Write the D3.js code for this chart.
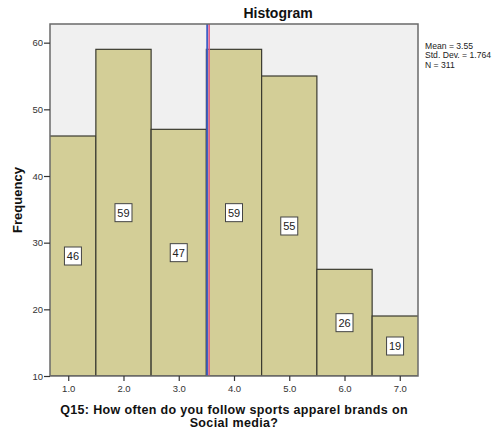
<!DOCTYPE html>
<html><head><meta charset="utf-8">
<script src="https://cdn.jsdelivr.net/npm/d3@7"></script>
<style>body{margin:0;background:#fff;} svg{display:block;font-family:"Liberation Sans",Arial,sans-serif;}</style>
</head><body>
<svg id="c" width="497" height="432"></svg>
<script>
const categories = [1, 2, 3, 4, 5, 6, 7];
const frequencies = [46, 59, 47, 59, 55, 26, 19];
const xTicks = [1, 2, 3, 4, 5, 6, 7];
const yTicks = [10, 20, 30, 40, 50, 60];
const meanValue = 3.55;
const statsLines = ["Mean = 3.55", "Std. Dev. = 1.764", "N = 311"];
const titleText = "Histogram";
const yLabel = "Frequency";
const xLabelLines = ["Q15: How often do you follow sports apparel brands on", "Social media?"];

const svg = d3.select("#c");
const L = 50, R = 418, T = 24, B = 376;
const x = d3.scaleLinear().domain([0.67, 7.33]).range([L, R]);
const y = d3.scaleLinear().domain([10, 62.8]).range([B, T]);

// plot background
svg.append("rect").attr("x", L).attr("y", T).attr("width", R - L).attr("height", B - T).attr("fill", "#f0f0f0");

svg.append("clipPath").attr("id", "pc").append("rect")
  .attr("x", L).attr("y", T).attr("width", R - L).attr("height", B - T);
const g = svg.append("g").attr("clip-path", "url(#pc)");

g.selectAll("rect.bar").data(categories).enter().append("rect")
  .attr("class", "bar")
  .attr("x", d => x(d - 0.5))
  .attr("width", d => x(d + 0.5) - x(d - 0.5))
  .attr("y", (d, i) => y(frequencies[i]))
  .attr("height", (d, i) => B - y(frequencies[i]))
  .attr("fill", "#d3ce97").attr("stroke", "#3a3a30").attr("stroke-width", 1.2);

// mean lines
g.append("line").attr("x1", x(meanValue) - 2).attr("x2", x(meanValue) - 2).attr("y1", T).attr("y2", B)
  .attr("stroke", "#3f5fc6").attr("stroke-width", 1.8);
g.append("line").attr("x1", x(meanValue)).attr("x2", x(meanValue)).attr("y1", T).attr("y2", B)
  .attr("stroke", "#dc5a8c").attr("stroke-width", 1.6);

// value labels
const lab = svg.append("g");
categories.forEach((c, i) => {
  const x0 = Math.max(x(c - 0.5), L), x1 = Math.min(x(c + 0.5), R);
  const cx = (x0 + x1) / 2;
  const cy = y((10 + frequencies[i]) / 2);
  lab.append("rect").attr("x", cx - 8.5).attr("y", cy - 9).attr("width", 17).attr("height", 18)
    .attr("fill", "#fff").attr("stroke", "#444").attr("stroke-width", 1);
  lab.append("text").attr("x", cx).attr("y", cy + 4).attr("text-anchor", "middle")
    .attr("font-size", 11).attr("fill", "#222").text(frequencies[i]);
});

// plot border
svg.append("rect").attr("x", L).attr("y", T).attr("width", R - L).attr("height", B - T)
  .attr("fill", "none").attr("stroke", "#6a6a6a").attr("stroke-width", 1.5);

// axes
const yAx = svg.append("g").attr("transform", `translate(${L},0)`)
  .call(d3.axisLeft(y).tickValues(yTicks).tickFormat(d3.format("d")).tickSize(6).tickPadding(1));
const xAx = svg.append("g").attr("transform", `translate(0,${B})`)
  .call(d3.axisBottom(x).tickValues(xTicks).tickFormat(d3.format(".1f")).tickSize(5).tickPadding(4));
[yAx, xAx].forEach(a => {
  a.select(".domain").remove();
  a.selectAll(".tick line").attr("stroke", "#333").attr("stroke-width", 1.2);
  a.selectAll(".tick text").attr("font-size", 9.5).attr("fill", "#333")
    .attr("font-family", "'Liberation Sans',Arial,sans-serif");
});

// title
svg.append("text").attr("x", 278).attr("y", 18).attr("text-anchor", "middle")
  .attr("font-size", 14).attr("font-weight", "bold").attr("fill", "#111").text(titleText);

// stats
statsLines.forEach((s, i) => {
  svg.append("text").attr("x", 425).attr("y", 48.5 + i * 9.7).attr("font-size", 8.6).attr("fill", "#222").text(s);
});

// y label
svg.append("text").attr("transform", `translate(22,${(T + B) / 2}) rotate(-90)`)
  .attr("text-anchor", "middle").attr("font-size", 13).attr("font-weight", "bold").attr("fill", "#111").text(yLabel);

// x label
xLabelLines.forEach((s, i) => {
  svg.append("text").attr("x", (L + R) / 2).attr("y", 413.5 + i * 13.5).attr("text-anchor", "middle")
    .attr("font-size", 12.5).attr("letter-spacing", 0.35).attr("font-weight", "bold").attr("fill", "#111").text(s);
});
</script>
</body></html>
